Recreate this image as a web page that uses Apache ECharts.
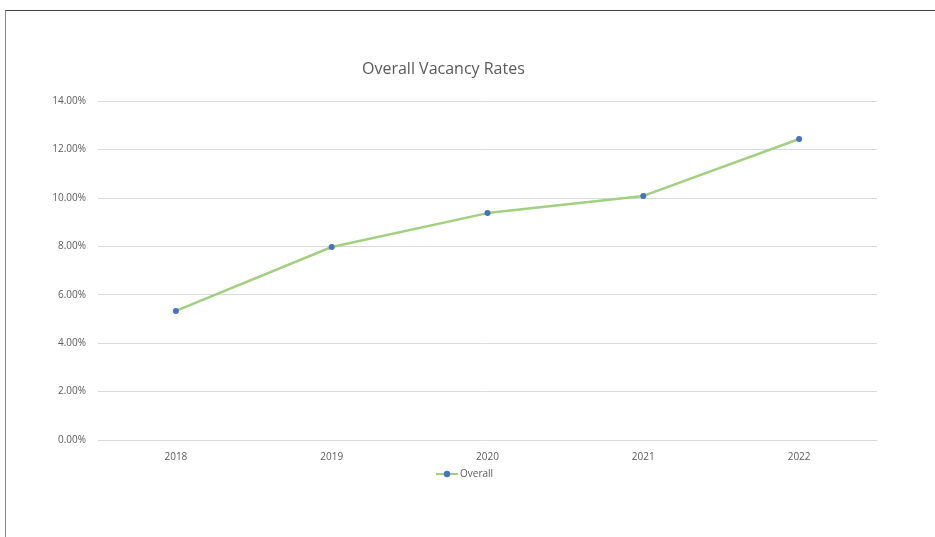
<!DOCTYPE html>
<html><head><meta charset="utf-8">
<script src="https://cdn.jsdelivr.net/npm/echarts@6/dist/echarts.min.js"></script>
<style>
html,body{margin:0;padding:0;background:#fff;}
#frame{position:absolute;left:5px;top:10px;width:940px;height:540px;border-top:1.5px solid #404040;border-left:1.5px solid #8a8a8a;}
#c{position:absolute;left:0;top:0;width:935px;height:537px;}
</style></head>
<body>
<div id="frame"></div>
<div id="c"></div>
<script>
const categories = ['2018','2019','2020','2021','2022'];
const overall = [5.33, 7.97, 9.37, 10.08, 12.43];
const seriesName = 'Overall';
const titleText = 'Overall Vacancy Rates';

const chart = echarts.init(document.getElementById('c'));
const font = '"Open Sans", "Liberation Sans", sans-serif';
chart.setOption({
  animation:false,
  backgroundColor:'transparent',
  title:{text:titleText,left:357,top:56,textStyle:{fontFamily:font,fontSize:16,fontWeight:'normal',color:'#595959'}},
  legend:{bottom:53,left:430,itemWidth:22,itemHeight:8,itemGap:2,
    data:[{name:seriesName}],
    textStyle:{fontFamily:font,fontSize:10,color:'#595959',padding:[0,0,0,-3]}},
  grid:{left:98,right:58,top:101,bottom:97},
  xAxis:{type:'category',data:categories,boundaryGap:true,
    axisLine:{lineStyle:{color:'#d9d9d9'}},axisTick:{show:false},
    axisLabel:{fontFamily:font,fontSize:10,color:'#595959',margin:12}},
  yAxis:{type:'value',min:0,max:14,interval:2,
    axisLine:{show:false},axisTick:{show:false},
    splitLine:{lineStyle:{color:'#d9d9d9',width:1}},
    axisLabel:{fontFamily:font,fontSize:10,color:'#595959',margin:12,formatter:v=>v.toFixed(2)+'%'}},
  series:[{name:seriesName,type:'line',data:overall,
    symbol:'circle',symbolSize:6,
    lineStyle:{color:'#a2d080',width:2.5},
    itemStyle:{color:'#4472c4'}}]
});
</script>
</body></html>
